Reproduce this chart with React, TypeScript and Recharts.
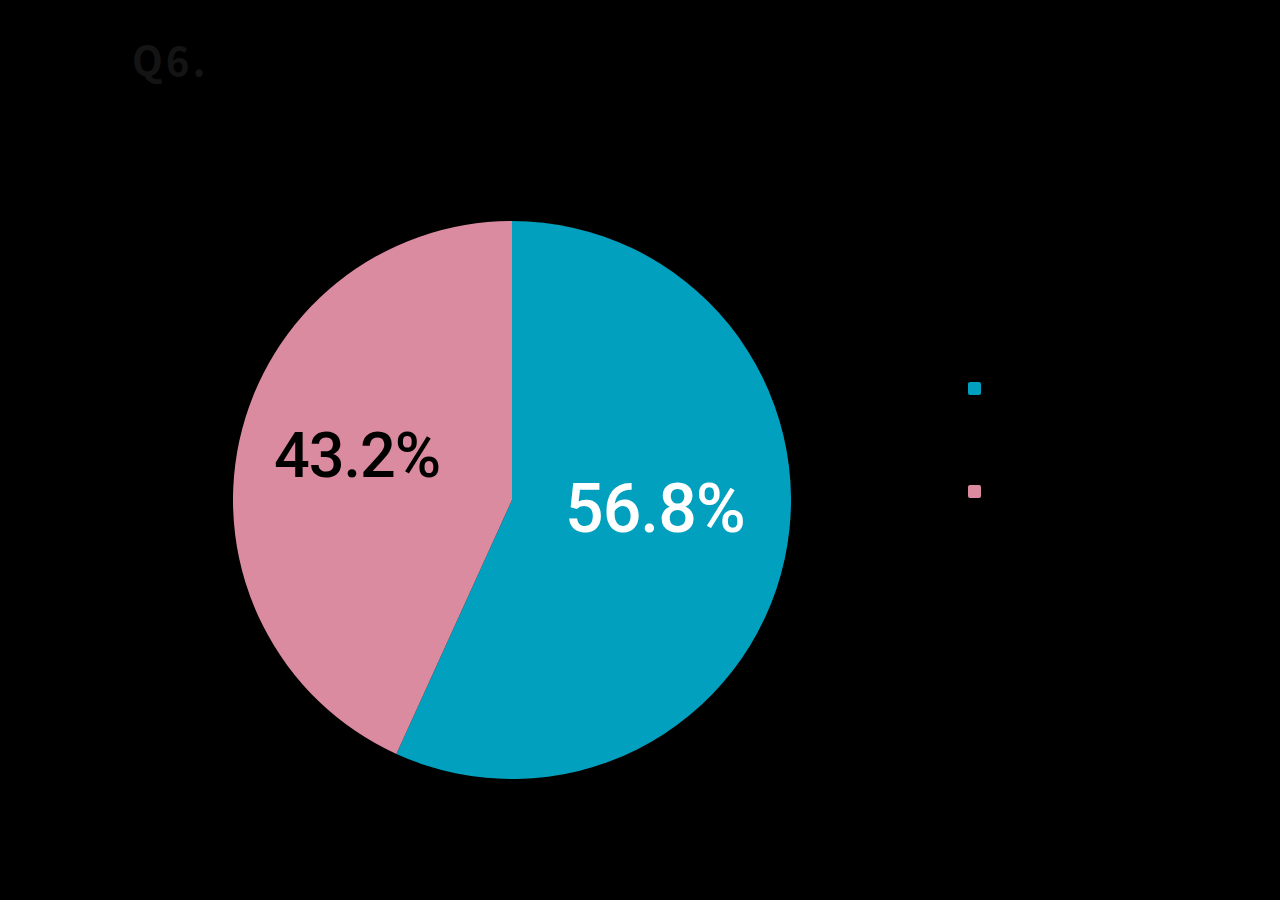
import React from "react";
import { PieChart, Pie, Cell } from "recharts";

const categories = ["はい", "いいえ"];
const values = [56.8, 43.2];
const colors = ["#00A0BE", "#DB8BA0"];
const labelColors = ["#FFFFFF", "#000000"];
const labelDx = [-7, -5];
const labelDy = [-24, -12];
const labelSize = [68, 63];

const data = categories.map((name, i) => ({ name, value: values[i] }));

const RAD = Math.PI / 180;

const renderLabel = (props: any) => {
  const { cx, cy, midAngle, outerRadius, index, value } = props;
  const r = outerRadius * 0.55;
  const x = cx + r * Math.cos(-midAngle * RAD) + labelDx[index];
  const y = cy + r * Math.sin(-midAngle * RAD) + labelDy[index];
  return (
    <text
      x={x}
      y={y}
      fill={labelColors[index]}
      textAnchor="middle"
      dominantBaseline="central"
      fontSize={labelSize[index]}
      fontWeight={500}
      letterSpacing={-1}
      fontFamily="Roboto, 'Noto Sans', sans-serif"
    >
      {`${value.toFixed(1)}%`}
    </text>
  );
};

export default function App() {
  return (
    <div
      style={{
        position: "fixed",
        left: 0,
        top: 0,
        width: 1280,
        height: 900,
        background: "#000",
        overflow: "hidden",
      }}
    >
      <div
        style={{
          position: "absolute",
          left: 132,
          top: 30,
          fontSize: 40,
          fontWeight: 700,
          color: "#141414",
          fontFamily: "'Noto Sans CJK JP', 'Noto Sans', sans-serif",
          letterSpacing: 3,
        }}
      >
        Q6.
      </div>
      <div style={{ position: "absolute", left: 0, top: 0 }}>
        <PieChart width={1280} height={900} margin={{ top: 0, right: 0, bottom: 0, left: 0 }}>
          <Pie
            data={data}
            dataKey="value"
            nameKey="name"
            cx={512}
            cy={500}
            outerRadius={279}
            startAngle={90}
            endAngle={-270}
            stroke="none"
            label={renderLabel}
            labelLine={false}
            isAnimationActive={false}
          >
            {data.map((d, i) => (
              <Cell key={d.name} fill={colors[i]} />
            ))}
          </Pie>
        </PieChart>
      </div>
      <div style={{ position: "absolute", left: 968, top: 337 }}>
        {categories.map((c, i) => (
          <div key={c} style={{ display: "flex", alignItems: "center", height: 103 }}>
            <span
              style={{
                display: "inline-block",
                width: 13,
                height: 13,
                background: colors[i],
                borderRadius: 2,
                marginRight: 14,
              }}
            />
            <span style={{ color: "#000", fontSize: 28, fontFamily: "'Noto Sans CJK JP', sans-serif" }}>
              {c}
            </span>
          </div>
        ))}
      </div>
    </div>
  );
}
